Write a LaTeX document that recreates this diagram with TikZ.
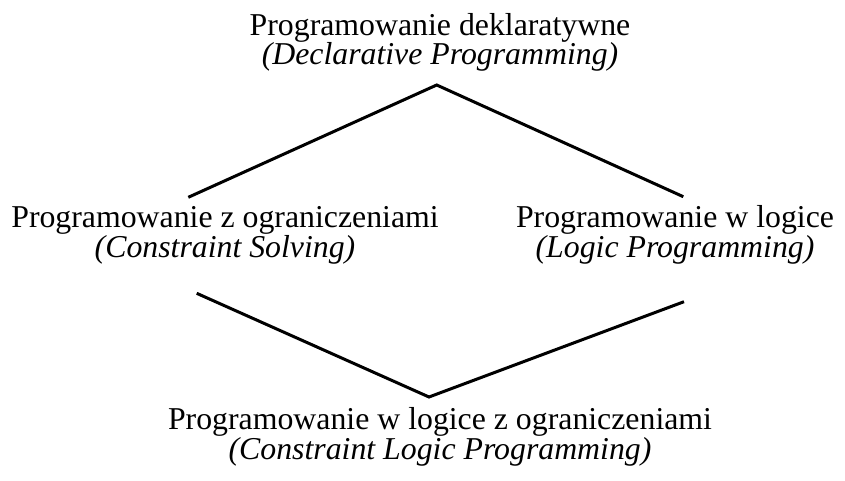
\documentclass[tikz,border=0pt]{standalone}
\usepackage{fontspec}
\setmainfont{Liberation Serif}

\tikzset{
	label text/.style={align=center, anchor=base, inner sep=0pt, font=\fontsize{31.8}{28.5}\selectfont},
	branch/.style={line width=3pt}
}

\begin{document}
\begin{tikzpicture}[x=1pt, y=1pt]
		\useasboundingbox (0, 0) rectangle (845, 480);
		% labels (base = baseline of the second line)
		\node[label text] (decl) at (440, 415) {Programowanie deklaratywne\\ \textit{(Declarative Programming)}};
		\node[label text] (cons) at (225, 223) {Programowanie z ograniczeniami\\ \textit{(Constraint Solving)}};
		\node[label text] (logic) at (675, 223) {Programowanie w logice\\ \textit{(Logic Programming)}};
		\node[label text] (clp) at (440, 21) {Programowanie w logice z ograniczeniami\\ \textit{(Constraint Logic Programming)}};
		% ends of the branches
		\coordinate (apex) at (436.7, 395);
		\coordinate (consTop) at (188.3, 282.7);
		\coordinate (logicTop) at (683.3, 283.3);
		\coordinate (consBot) at (196.7, 186.7);
		\coordinate (logicBot) at (684, 178.3);
		\coordinate (nadir) at (429, 83);
		\draw[branch] (consTop) -- (apex) -- (logicTop);
		\draw[branch] (consBot) -- (nadir) -- (logicBot);
	\end{tikzpicture}
\end{document}
